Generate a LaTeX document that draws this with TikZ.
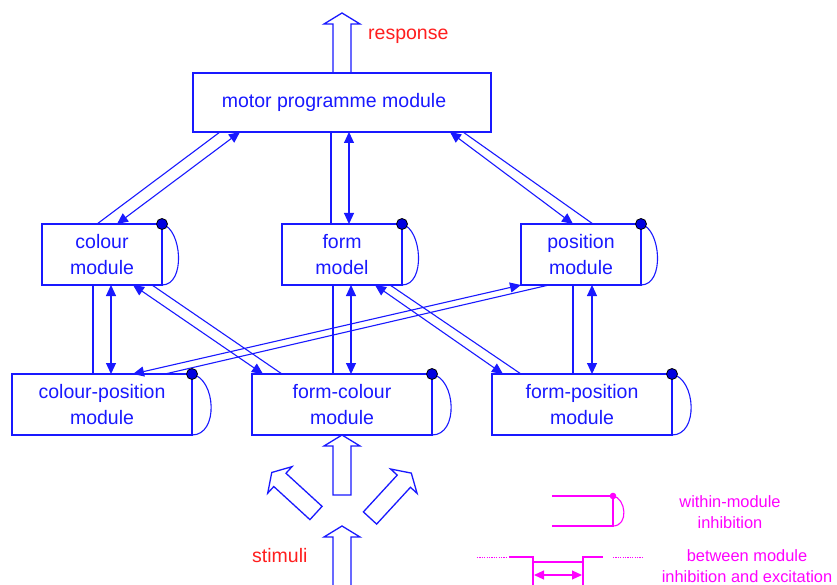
\documentclass[tikz,border=0pt]{standalone}
\usepackage{fontspec}
\setmainfont{Liberation Sans}
\usetikzlibrary{arrows.meta,calc}
\definecolor{mblue}{RGB}{25,25,255}
\definecolor{dotblue}{RGB}{0,0,225}
\definecolor{mred}{RGB}{255,30,30}
\definecolor{mmag}{RGB}{255,0,255}
% hollow block arrow: tail point, direction (degrees), shaft length
\newcommand{\fatarrow}[3]{%
  \draw[bigarrow, shift={#1}, rotate=#2]
    (0,-9) -- (#3,-9) -- (#3,-18) -- ({#3+11},0) -- (#3,18) -- (#3,9) -- (0,9) -- cycle;}
\begin{document}
\begin{tikzpicture}[x=1pt,y=-1pt,
  modbox/.style={draw=mblue, line width=1.3pt, text=mblue, align=center,
    inner sep=0pt, outer sep=0pt, font=\fontsize{19.5}{26}\selectfont},
  wire/.style={draw=mblue, line width=1.1pt},
  duplex/.style={wire, {Triangle[length=11pt,width=10pt]}-{Triangle[length=11pt,width=10pt]}},
  selfloop/.style={draw=mblue, line width=1.1pt},
  knob/.style={fill=dotblue, draw=black, line width=0.8pt},
  bigarrow/.style={draw=mblue, line width=1.3pt, line join=miter},
  cuetext/.style={text=mred, inner sep=0pt, font=\fontsize{19.5}{24}\selectfont},
  legendtext/.style={text=mmag, align=center, inner sep=0pt},
  legendline/.style={draw=mmag, line width=1.1pt},
  legenddots/.style={draw=mmag, line width=1pt, dash pattern=on 1.2pt off 1.2pt},
]
\fill[white] (0,0) rectangle (837,585);
\useasboundingbox (0,0) rectangle (837,585);

% modules (the motor label sits a little left of the box centre)
\node[modbox, minimum width=298pt, minimum height=59pt] (motor) at (342,102.5) {\hspace*{-16pt}motor programme module};
\node[modbox, minimum width=120pt, minimum height=61pt] (colour) at (102,254.5) {colour\\module};
\node[modbox, minimum width=120pt, minimum height=61pt] (form) at (342,254.5) {form\\model};
\node[modbox, minimum width=120pt, minimum height=61pt] (position) at (581,254.5) {position\\module};
\node[modbox, minimum width=180pt, minimum height=61pt] (cp) at (102,404.5) {colour-position\\module};
\node[modbox, minimum width=180pt, minimum height=61pt] (fc) at (342,404.5) {form-colour\\module};
\node[modbox, minimum width=180pt, minimum height=61pt] (fp) at (582,404.5) {form-position\\module};

% motor programme <-> first-order modules
\draw[wire] ($(colour.north west)+(55,0)$) -- ($(motor.south west)+(27,0)$);
\draw[duplex] ($(colour.north west)+(75,0)$) -- ($(motor.south west)+(47,0)$);
\draw[wire] ($(motor.south west)+(138,0)$) -- ($(form.north west)+(49,0)$);
\draw[duplex] ($(motor.south west)+(156,0)$) -- ($(form.north west)+(67,0)$);
\draw[wire] ($(motor.south west)+(270,0)$) -- ($(position.north west)+(72,0)$);
\draw[duplex] ($(motor.south west)+(257,0)$) -- ($(position.north west)+(52,0)$);

% first-order <-> combination modules
\draw[wire] ($(colour.south west)+(51,0)$) -- ($(cp.north west)+(81,0)$);
\draw[duplex] ($(colour.south west)+(69,0)$) -- ($(cp.north west)+(99,0)$);
\draw[wire] ($(colour.south west)+(110,0)$) -- ($(fc.north west)+(30,0)$);
\draw[duplex] ($(colour.south west)+(91,0)$) -- ($(fc.north west)+(11,0)$);
\draw[wire] ($(form.south west)+(51,0)$) -- ($(fc.north west)+(81,0)$);
\draw[duplex] ($(form.south west)+(69,0)$) -- ($(fc.north west)+(99,0)$);
\draw[wire] ($(form.south west)+(108,0)$) -- ($(fp.north west)+(29,0)$);
\draw[duplex] ($(form.south west)+(93,0)$) -- ($(fp.north west)+(11,0)$);
\draw[wire] ($(position.south west)+(52,0)$) -- ($(fp.north west)+(81,0)$);
\draw[duplex] ($(position.south west)+(71,0)$) -- ($(fp.north west)+(100,0)$);
\draw[wire] ($(position.south west)+(28,0)$) -- ($(cp.north west)+(153,0)$);
\draw[duplex] ($(position.south west)+(0,0)$) -- ($(cp.north west)+(121,0)$);

% within-module inhibition loops
\foreach \m in {colour,form,position}{
  \draw[selfloop] (\m.north east) .. controls +(20,5) and +(24,0) .. (\m.south east);
  \filldraw[knob] (\m.north east) circle (5.5);
}
\foreach \m in {cp,fc,fp}{
  \draw[selfloop] (\m.north east) .. controls +(24,5) and +(27,0) .. (\m.south east);
  \filldraw[knob] (\m.north east) circle (5.5);
}

% response and stimuli
\fatarrow{(motor.north)}{90}{49}
\node[cuetext, anchor=base west] (response) at (368,40) {response};
\fatarrow{($(fc.south)+(0,60)$)}{90}{49}
\fatarrow{($(fc.south)+(0,157)$)}{90}{55}
\fatarrow{($(fc.south)+(-26,78)$)}{137.5}{49}
\fatarrow{($(fc.south)+(28,83)$)}{47.4}{50}
\node[cuetext, anchor=base west] (stimuli) at (252,562) {stimuli};

% legend: within-module inhibition
\draw[legendline] (552,496) -- (613,496) -- (613,526) -- (552,526);
\draw[legendline] (613,496) .. controls +(13,2) and +(16,0) .. (613,526);
\fill[mmag] (613,496) circle (3.3);
\node[legendtext, font=\fontsize{16.4}{21}\selectfont] (within) at (730,512.6) {within-module\\inhibition};

% legend: between module inhibition and excitation
\draw[legenddots] (477,557) -- (506,557);
\draw[legendline] (509,557) -- (533,557) -- (533,590);
\draw[legendline] (533,562) -- (583,562);
\draw[legendline] (583,590) -- (583,557) -- (603,557);
\draw[legenddots] (613,557) -- (642,557);
\draw[legendline, {Triangle[length=10pt,width=9pt]}-{Triangle[length=10pt,width=9pt]}] (534,575) -- (582,575);
\node[legendtext, font=\fontsize{16.4}{20.5}\selectfont] (between) at (747,566) {between module\\inhibition and excitation};
\end{tikzpicture}
\end{document}
